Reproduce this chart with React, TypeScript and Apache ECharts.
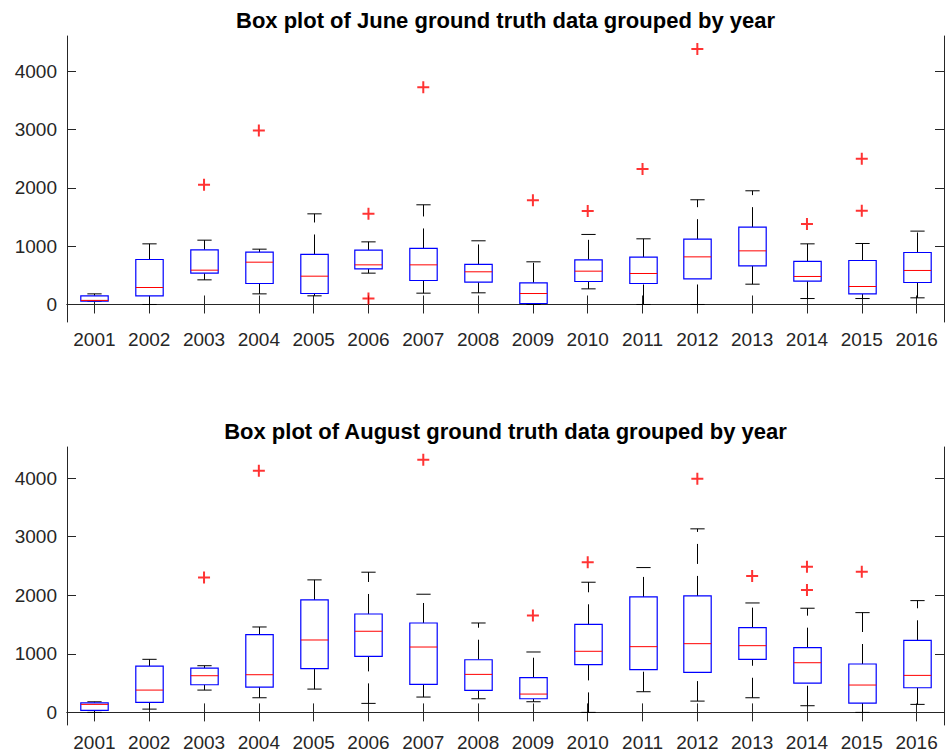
import React, { useEffect, useRef } from 'react';
import * as echarts from 'echarts';

const years = ['2001', '2002', '2003', '2004', '2005', '2006', '2007', '2008', '2009', '2010', '2011', '2012', '2013', '2014', '2015', '2016'];
const yTicks = [0, 1000, 2000, 3000, 4000];

// [min whisker, q1, median, q3, max whisker]
const juneBoxes = [
  [55, 57, 70, 148, 182],
  [0, 148, 291, 771, 1039],
  [422, 537, 588, 936, 1102],
  [182, 360, 725, 897, 948],
  [148, 188, 485, 857, 1553],
  [537, 611, 679, 931, 1073],
  [194, 411, 679, 960, 1708],
  [200, 382, 560, 686, 1091],
  [0, 17, 188, 371, 731],
  [268, 394, 571, 765, 1200],
  [0, 360, 531, 811, 1125],
  [0, 439, 816, 1119, 1794],
  [348, 662, 919, 1325, 1948],
  [102, 399, 480, 737, 1039],
  [102, 182, 308, 754, 1045],
  [114, 377, 583, 891, 1257],
];
const juneOutliers = [
  ['2003', 2051], ['2004', 2983], ['2006', 1553], ['2006', 102], ['2007', 3720], ['2009', 1788],
  ['2010', 1600], ['2011', 2320], ['2012', 4377], ['2014', 1377], ['2015', 2496], ['2015', 1605],
];

const augBoxes = [
  [0, 34, 137, 164, 181],
  [56, 171, 381, 791, 906],
  [381, 472, 626, 757, 797],
  [250, 433, 643, 1327, 1458],
  [398, 746, 1236, 1920, 2262],
  [154, 957, 1385, 1680, 2393],
  [262, 478, 1116, 1526, 2017],
  [233, 376, 649, 899, 1526],
  [182, 233, 313, 592, 1031],
  [0, 814, 1043, 1504, 2222],
  [353, 729, 1122, 1971, 2472],
  [193, 684, 1173, 1988, 3133],
  [250, 906, 1139, 1447, 1868],
  [114, 501, 848, 1105, 1778],
  [0, 159, 467, 826, 1703],
  [137, 421, 632, 1231, 1908],
];
const augOutliers = [
  ['2003', 2301], ['2004', 4125], ['2007', 4313], ['2009', 1652], ['2010', 2564], ['2012', 3988],
  ['2013', 2330], ['2014', 2484], ['2014', 2091], ['2015', 2399],
];

const titles = [
  'Box plot of June ground truth data grouped by year',
  'Box plot of August ground truth data grouped by year',
];

const FONT = "'Liberation Sans', Arial, Helvetica, sans-serif";
const AX = '#262626';
const PLUS = 'path://M5,0H7V5H12V7H7V12H5V7H0V5H5Z';

function renderBox(params: any, api: any) {
  const x = api.value(0);
  const lo = api.coord([x, api.value(1)]);
  const q1 = api.coord([x, api.value(2)]);
  const med = api.coord([x, api.value(3)]);
  const q3 = api.coord([x, api.value(4)]);
  const hi = api.coord([x, api.value(5)]);
  const band = api.size([1, 0])[0];
  const bw = band * 0.5;
  const cw = band * 0.26;
  const cx = Math.round(q1[0]) + 0.5;
  const wStyle = { stroke: '#000', lineWidth: 1, lineDash: [20, 12], fill: null };
  const cStyle = { stroke: '#000', lineWidth: 1, fill: null };
  return {
    type: 'group',
    children: [
      { type: 'line', shape: { x1: cx, y1: q3[1], x2: cx, y2: hi[1] }, style: wStyle },
      { type: 'line', shape: { x1: cx, y1: lo[1], x2: cx, y2: q1[1] }, style: wStyle },
      { type: 'line', shape: { x1: cx - cw / 2, y1: hi[1], x2: cx + cw / 2, y2: hi[1] }, style: cStyle },
      { type: 'line', shape: { x1: cx - cw / 2, y1: lo[1], x2: cx + cw / 2, y2: lo[1] }, style: cStyle },
      {
        type: 'rect',
        shape: { x: cx - bw / 2, y: q3[1], width: bw, height: q1[1] - q3[1] },
        style: { fill: '#fff', stroke: '#0000ff', lineWidth: 1.2 },
      },
      { type: 'line', shape: { x1: cx - bw / 2, y1: med[1], x2: cx + bw / 2, y2: med[1] }, style: { stroke: '#ff0000', lineWidth: 1 } },
    ],
  };
}

export default function App() {
  const ref = useRef<HTMLDivElement>(null);
  useEffect(() => {
    if (!ref.current) return;
    const chart = echarts.init(ref.current, null, { renderer: 'svg' });
    const grids = [
      { left: 67, top: 36, width: 877, height: 286, min: -300, max: 4600 },
      { left: 67, top: 447, width: 877, height: 278, min: -215, max: 4530 },
    ];
    const xAxes: any[] = [];
    const yAxes: any[] = [];
    grids.forEach((g, i) => {
      ['bottom', 'top'].forEach((pos) => {
        xAxes.push({
          type: 'category',
          data: years,
          gridIndex: i,
          position: pos,
          boundaryGap: true,
          axisLine: { show: true, lineStyle: { color: AX, width: 1 } },
          axisTick: { show: true, inside: true, alignWithLabel: true, length: 9, lineStyle: { color: AX } },
          axisLabel: { show: pos === 'bottom', color: AX, fontSize: 19, fontFamily: FONT, margin: 8, interval: 0 },
          splitLine: { show: false },
        });
      });
      ['left', 'right'].forEach((pos) => {
        yAxes.push({
          type: 'value',
          gridIndex: i,
          position: pos,
          min: g.min,
          max: g.max,
          axisLine: { show: true, lineStyle: { color: AX, width: 1 } },
          axisTick: { show: true, inside: true, length: 9, lineStyle: { color: AX }, customValues: yTicks },
          axisLabel: {
            show: pos === 'left', color: AX, fontSize: 19, fontFamily: FONT, margin: 10, customValues: yTicks,
            formatter: (v: number) => String(Math.round(v)),
          },
          splitLine: { show: false },
        });
      });
    });
    const boxData = (b: number[][]) => b.map((r, i) => [i, ...r]);
    chart.setOption({
      animation: false,
      backgroundColor: '#fff',
      grid: grids.map((g) => ({ left: g.left, top: g.top, width: g.width, height: g.height, containLabel: false, outerBoundsMode: 'none' })),
      xAxis: xAxes,
      yAxis: yAxes,
      graphic: [
        { type: 'text', x: 505.5, y: 20, style: { text: titles[0], fontSize: 22, fontWeight: 'bold', fontFamily: FONT, fill: '#000', align: 'center', verticalAlign: 'middle' } },
        { type: 'text', x: 505.5, y: 431, style: { text: titles[1], fontSize: 22, fontWeight: 'bold', fontFamily: FONT, fill: '#000', align: 'center', verticalAlign: 'middle' } },
      ],
      series: [
        { type: 'custom', name: 'June', xAxisIndex: 0, yAxisIndex: 0, renderItem: renderBox, data: boxData(juneBoxes), encode: { x: 0, y: [1, 2, 3, 4, 5] }, clip: false },
        { type: 'scatter', name: 'June outliers', xAxisIndex: 0, yAxisIndex: 0, data: juneOutliers, symbol: PLUS, symbolSize: 12, itemStyle: { color: '#ff0000' } },
        { type: 'custom', name: 'August', xAxisIndex: 2, yAxisIndex: 2, renderItem: renderBox, data: boxData(augBoxes), encode: { x: 0, y: [1, 2, 3, 4, 5] }, clip: false },
        { type: 'scatter', name: 'August outliers', xAxisIndex: 2, yAxisIndex: 2, data: augOutliers, symbol: PLUS, symbolSize: 12, itemStyle: { color: '#ff0000' } },
      ],
    });
    return () => chart.dispose();
  }, []);
  return <div ref={ref} style={{ position: 'absolute', left: 0, top: 0, width: 945, height: 756, background: '#fff' }} />;
}
